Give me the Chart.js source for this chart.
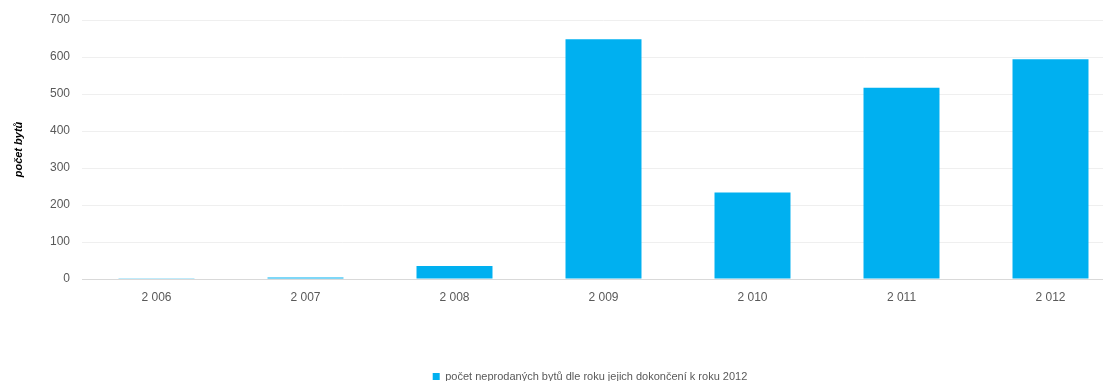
<!DOCTYPE html>
<html>
<head>
<meta charset="utf-8">
<script src="https://cdn.jsdelivr.net/npm/chart.js@4"></script>
<style>
    body { margin: 0; background: #fff; overflow: hidden; }
    #wrap { width: 1180px; height: 381px; }
</style>
</head>
<body>
<div id="wrap"><canvas id="unsold"></canvas></div>
<script>
const years = ["2 006", "2 007", "2 008", "2 009", "2 010", "2 011", "2 012"];
const unsoldFlats = [1, 4, 35, 648, 234, 517, 594];
const yTicks = [0, 100, 200, 300, 400, 500, 600, 700];

const seriesLabel = "počet neprodaných bytů dle roku jejich dokončení k roku 2012";
const barColor = "#00b0f0";
const textColor = "#595959";

Chart.defaults.font.family = "'Liberation Sans', Arial, sans-serif";
Chart.defaults.font.size = 12;
Chart.defaults.color = textColor;

// centre the legend on the whole canvas rather than the padded box
const centerLegend = {
    id: "centerLegend",
    afterLayout(chart) {
        const lg = chart.legend;
        const shift = (chart.width - (lg.left + lg.right)) / 2;
        lg.left += shift;
        lg.right += shift;
    },
};

const ctx = document.querySelector("#unsold");
new Chart(ctx, {
    type: "bar",
    data: {
        labels: years,
        datasets: [
            {
                label: seriesLabel,
                data: unsoldFlats,
                backgroundColor: barColor,
                categoryPercentage: 1,
                barPercentage: 0.51,
            },
        ],
    },
    options: {
        responsive: true,
        maintainAspectRatio: false,
        animation: false,
        layout: {
            padding: { top: 20, left: 12, right: 55, bottom: -11 },
        },
        plugins: {
            tooltip: { enabled: false },
            legend: {
                position: "bottom",
                labels: {
                    boxWidth: 7,
                    boxHeight: 7,
                    padding: 0,
                    color: textColor,
                    font: { size: 11 },
                },
            },
        },
        scales: {
            x: {
                grid: { display: false, drawTicks: false },
                border: { color: "#d9d9d9" },
                ticks: { padding: 11, color: textColor },
                afterFit: (scale) => {
                    scale.height = 92;
                },
            },
            y: {
                min: 0,
                max: 700,
                afterBuildTicks: (scale) => {
                    scale.ticks = yTicks.map((v) => ({ value: v }));
                },
                border: { display: false },
                grid: {
                    drawTicks: false,
                    color: (c) => (c.tick && c.tick.value === 0 ? "#d9d9d9" : "#efefef"),
                },
                ticks: { padding: 12, color: textColor },
                title: {
                    display: true,
                    text: "počet bytů",
                    color: "#000",
                    font: { size: 11, style: "italic", weight: "bold" },
                    padding: { top: 0, bottom: 0 },
                },
                afterFit: (scale) => {
                    scale.width = 70;
                },
            },
        },
    },
    plugins: [centerLegend],
});
</script>
</body>
</html>
